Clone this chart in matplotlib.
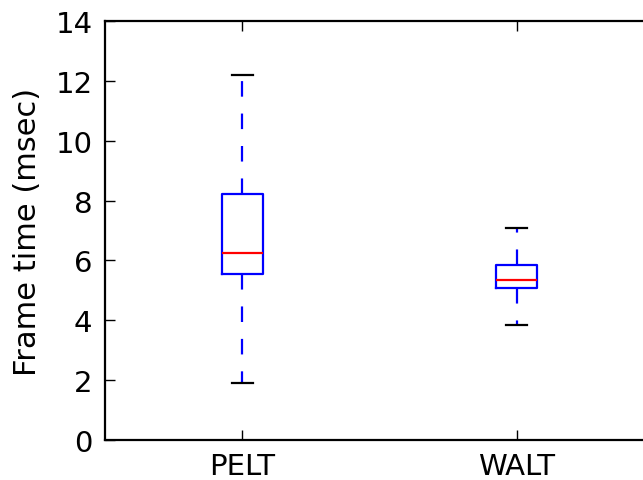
import matplotlib
matplotlib.use("Agg")
import matplotlib.pyplot as plt

labels = ["PELT", "WALT"]
whislo = [1.89, 3.85]
q1 = [5.55, 5.07]
med = [6.24, 5.35]
q3 = [8.22, 5.85]
whishi = [12.2, 7.07]

stats = []
for i in range(len(labels)):
    stats.append(dict(label=labels[i], whislo=whislo[i], q1=q1[i], med=med[i],
                      q3=q3[i], whishi=whishi[i], fliers=[]))

plt.rcParams['font.family'] = ['DejaVu Sans']
plt.rcParams['font.size'] = 21

fig = plt.figure(figsize=(6.43, 4.81), dpi=100)
ax = fig.add_axes([105 / 643, 40 / 481, 549 / 643, 419 / 481])

lw = 1.6
ax.bxp(stats, widths=0.15, showfliers=False,
       boxprops=dict(color="blue", linewidth=lw),
       medianprops=dict(color="red", linewidth=lw),
       whiskerprops=dict(color="blue", linewidth=lw, linestyle=(0, (7.0, 7.6))),
       capprops=dict(color="black", linewidth=lw))

ax.set_xlim(0.5, 2.5)
ax.set_ylim(0, 14)
ax.set_yticks(range(0, 15, 2))
ax.set_ylabel("Frame time (msec)", fontsize=22)
ax.yaxis.set_label_coords(-0.115, 0.5)

for s in ax.spines.values():
    s.set_linewidth(1.6)
ax.tick_params(direction="in", length=7, width=1, top=True, right=True, pad=9)

fig.savefig("out.png", dpi=100)
